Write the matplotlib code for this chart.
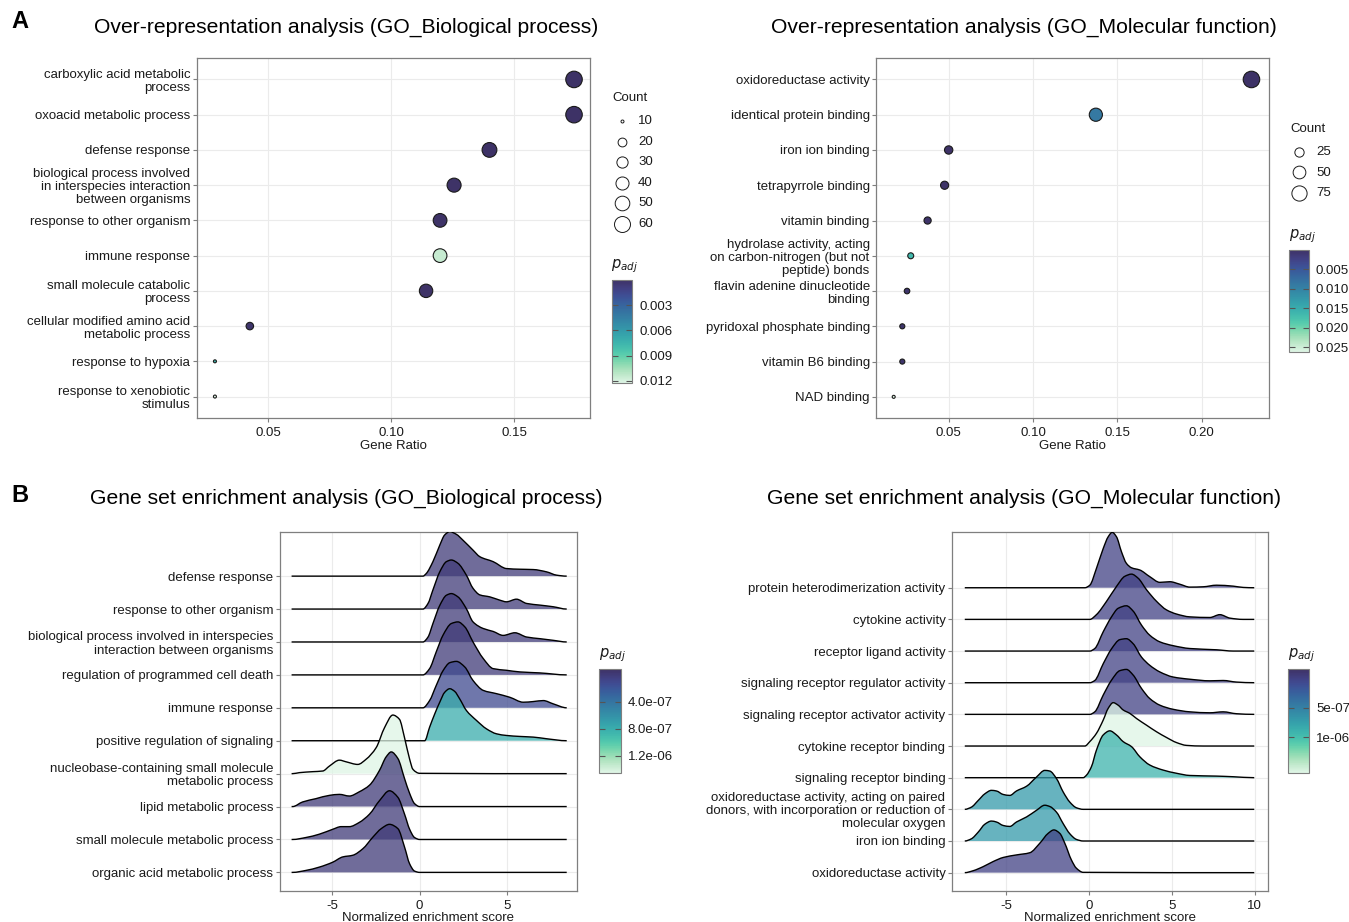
import numpy as np
import matplotlib.pyplot as plt
import matplotlib.colors as mcolors
import matplotlib.cm as cm
from matplotlib.path import Path
from matplotlib.patches import PathPatch
import seaborn as sns

plt.rcParams['font.family'] = ['Liberation Sans', 'DejaVu Sans']

# ---------------- A: over-representation analysis (top to bottom)
ora_bp_terms = ["carboxylic acid metabolic\nprocess", "oxoacid metabolic process", "defense response",
                "biological process involved\nin interspecies interaction\nbetween organisms",
                "response to other organism", "immune response", "small molecule catabolic\nprocess",
                "cellular modified amino acid\nmetabolic process", "response to hypoxia",
                "response to xenobiotic\nstimulus"]
ora_bp_ratio = [0.1744, 0.1744, 0.140, 0.1256, 0.1199, 0.1199, 0.1142, 0.0425, 0.0283, 0.0283]
ora_bp_count = [64, 64, 51, 46, 44, 44, 42, 16, 10, 10]
ora_bp_padj = [2e-5, 2e-5, 4e-5, 6e-5, 5e-5, 0.0115, 8e-5, 2e-4, 0.0075, 0.0123]

ora_mf_terms = ["oxidoreductase activity", "identical protein binding", "iron ion binding",
                "tetrapyrrole binding", "vitamin binding",
                "hydrolase activity, acting\non carbon-nitrogen (but not\npeptide) bonds",
                "flavin adenine dinucleotide\nbinding", "pyridoxal phosphate binding",
                "vitamin B6 binding", "NAD binding"]
ora_mf_ratio = [0.2296, 0.1373, 0.050, 0.0476, 0.0375, 0.0275, 0.0253, 0.0225, 0.0225, 0.0174]
ora_mf_count = [90, 54, 20, 19, 15, 11, 10, 9, 9, 7]
ora_mf_padj = [1e-4, 0.0087, 3e-4, 3e-4, 4e-4, 0.0165, 5e-4, 5e-4, 5e-4, 0.026]

# ---------------- B: gene set enrichment analysis (top to bottom)
gsea_bp_terms = ["defense response", "response to other organism",
                 "biological process involved in interspecies\ninteraction between organisms",
                 "regulation of programmed cell death", "immune response",
                 "positive regulation of signaling",
                 "nucleobase-containing small molecule\nmetabolic process",
                 "lipid metabolic process", "small molecule metabolic process",
                 "organic acid metabolic process"]
gsea_bp_padj = [1e-9, 1e-9, 1e-9, 1e-9, 1.2e-7, 8e-7, 1.45e-6, 1e-9, 1e-9, 1e-9]
gsea_bp_range = [-7.31, 8.40]
gsea_bp_nes = [
    [0.19, 0.38, 0.76, 1.15, 1.43, 1.72, 2.10, 2.48, 3.05, 3.44, 4.20, 4.96, 5.73, 6.49, 7.25, 7.82, 8.40],
    [0.19, 0.48, 0.76, 1.15, 1.53, 1.81, 2.19, 2.67, 3.05, 3.44, 4.01, 4.58, 4.96, 5.53, 6.11, 6.87, 7.63, 8.40],
    [0.19, 0.48, 0.76, 1.15, 1.53, 1.81, 2.19, 2.67, 3.05, 3.63, 4.20, 4.77, 5.44, 6.11, 6.87, 7.63, 8.40],
    [0.19, 0.57, 0.95, 1.34, 1.81, 2.19, 2.58, 3.05, 3.63, 4.20, 4.96, 5.73, 6.87, 8.40],
    [0.19, 0.57, 0.95, 1.34, 1.72, 2.10, 2.58, 3.05, 3.63, 4.39, 5.15, 5.92, 6.49, 7.06, 7.63, 8.40],
    [0.29, 0.57, 0.86, 1.15, 1.43, 1.72, 2.00, 2.29, 2.67, 3.24, 3.82, 4.39, 4.96, 5.73, 6.49, 7.25, 8.40],
    [-7.25, -6.87, -6.11, -5.53, -5.15, -4.58, -4.20, -3.53, -3.05, -2.48, -2.00, -1.53, -1.15, -0.86, -0.57, -0.38, 0.0],
    [-7.25, -6.68, -5.92, -5.15, -4.58, -4.01, -3.44, -2.86, -2.29, -1.91, -1.62, -1.24, -0.86, -0.57, -0.29, 0.0],
    [-7.25, -6.49, -5.73, -4.96, -4.48, -4.01, -3.44, -2.86, -2.29, -1.72, -1.24, -0.86, -0.57, -0.29, 0.0],
    [-7.25, -6.49, -5.73, -4.96, -4.39, -3.82, -3.24, -2.67, -2.19, -1.72, -1.24, -0.86, -0.57, -0.29, 0.0],
]
gsea_bp_density = [
    [0, 0.08, 0.44, 0.94, 1.25, 1.35, 1.27, 1.09, 0.79, 0.59, 0.44, 0.23, 0.21, 0.20, 0.13, 0.03, 0],
    [0, 0.17, 0.58, 1.13, 1.44, 1.49, 1.39, 1.03, 0.63, 0.43, 0.37, 0.27, 0.22, 0.30, 0.17, 0.12, 0.07, 0],
    [0, 0.15, 0.56, 1.11, 1.42, 1.47, 1.37, 1.01, 0.61, 0.41, 0.32, 0.20, 0.28, 0.15, 0.10, 0.05, 0],
    [0, 0.19, 0.70, 1.21, 1.56, 1.61, 1.46, 1.00, 0.50, 0.19, 0.14, 0.09, 0.06, 0],
    [0, 0.22, 0.68, 1.13, 1.37, 1.41, 1.24, 0.83, 0.53, 0.43, 0.32, 0.17, 0.19, 0.22, 0.12, 0],
    [0, 0.41, 0.81, 1.17, 1.47, 1.58, 1.50, 1.27, 0.92, 0.62, 0.36, 0.21, 0.16, 0.13, 0.11, 0.06, 0],
    [0, 0.03, 0.06, 0.08, 0.23, 0.41, 0.36, 0.28, 0.44, 0.79, 1.40, 1.78, 1.65, 1.09, 0.44, 0.13, 0.01],
    [0, 0.14, 0.24, 0.34, 0.37, 0.32, 0.45, 0.65, 1.10, 1.51, 1.66, 1.46, 0.85, 0.40, 0.09, 0],
    [0, 0.06, 0.16, 0.31, 0.39, 0.39, 0.52, 0.77, 1.18, 1.48, 1.28, 0.77, 0.31, 0.06, 0],
    [0, 0.06, 0.16, 0.31, 0.47, 0.52, 0.72, 1.07, 1.33, 1.46, 1.33, 0.77, 0.26, 0.04, 0],
]

gsea_mf_terms = ["protein heterodimerization activity", "cytokine activity", "receptor ligand activity",
                 "signaling receptor regulator activity", "signaling receptor activator activity",
                 "cytokine receptor binding", "signaling receptor binding",
                 "oxidoreductase activity, acting on paired\ndonors, with incorporation or reduction of\nmolecular oxygen",
                 "iron ion binding", "oxidoreductase activity"]
gsea_mf_padj = [1e-9, 1e-9, 1e-9, 1e-9, 1e-9, 1.6e-6, 9e-7, 7e-7, 7e-7, 1e-9]
gsea_mf_range = [-7.51, 9.97]
gsea_mf_nes = [
    [-0.26, 0.04, 0.44, 0.85, 1.15, 1.39, 1.65, 1.95, 2.25, 2.56, 3.06, 3.66, 4.27, 4.87, 5.48, 6.08, 6.89, 7.69, 8.70, 9.30],
    [0.04, 0.44, 1.05, 1.65, 2.15, 2.56, 2.96, 3.46, 4.07, 4.67, 5.27, 6.08, 7.29, 7.89, 8.50, 9.30],
    [0.04, 0.34, 0.85, 1.35, 1.75, 2.25, 2.66, 3.16, 3.66, 4.27, 5.07, 6.08, 7.69, 8.70],
    [0.04, 0.34, 0.85, 1.35, 1.85, 2.25, 2.66, 3.16, 3.66, 4.27, 5.07, 6.08, 7.29, 8.09, 8.90],
    [0.04, 0.34, 0.85, 1.35, 1.85, 2.25, 2.66, 3.16, 3.66, 4.27, 5.07, 6.08, 7.29, 8.09, 8.90],
    [-0.26, 0.04, 0.44, 0.85, 1.15, 1.45, 1.75, 2.05, 2.46, 2.86, 3.46, 4.07, 4.67, 5.27, 5.88, 6.89],
    [-0.36, -0.16, 0.14, 0.44, 0.85, 1.25, 1.65, 2.05, 2.56, 3.06, 3.66, 4.47, 5.27, 6.08, 7.69, 8.70, 9.97],
    [-7.51, -7.11, -6.70, -6.30, -5.90, -5.60, -5.19, -4.79, -4.39, -3.78, -3.18, -2.68, -2.38, -1.97, -1.57, -1.17, -0.77, -0.36],
    [-7.51, -7.11, -6.70, -6.30, -5.90, -5.60, -5.19, -4.79, -4.39, -3.78, -3.18, -2.68, -2.38, -1.97, -1.57, -1.17, -0.77, -0.36],
    [-7.51, -7.01, -6.40, -5.80, -5.19, -4.39, -3.58, -2.98, -2.48, -2.13, -1.77, -1.47, -1.07, -0.77, -0.36],
]
gsea_mf_density = [
    [0, 0.08, 0.61, 1.24, 1.61, 1.75, 1.61, 1.14, 0.77, 0.63, 0.56, 0.35, 0.17, 0.19, 0.11, 0.02, 0.03, 0.08, 0.05, 0.01],
    [0, 0.15, 0.57, 1.04, 1.36, 1.43, 1.30, 0.94, 0.57, 0.30, 0.17, 0.08, 0.06, 0.15, 0.04, 0],
    [0, 0.08, 0.61, 1.08, 1.35, 1.43, 1.26, 0.82, 0.50, 0.29, 0.17, 0.08, 0.04, 0],
    [0, 0.07, 0.60, 1.07, 1.36, 1.39, 1.23, 0.81, 0.55, 0.34, 0.18, 0.11, 0.06, 0.07, 0.02],
    [0, 0.08, 0.61, 1.08, 1.38, 1.42, 1.24, 0.82, 0.50, 0.29, 0.16, 0.08, 0.05, 0.08, 0.02],
    [0, 0.14, 0.40, 0.82, 1.19, 1.37, 1.29, 1.14, 1.03, 0.87, 0.66, 0.45, 0.27, 0.11, 0.02, 0],
    [0, 0.08, 0.35, 0.87, 1.35, 1.48, 1.35, 1.14, 0.98, 0.66, 0.40, 0.24, 0.14, 0.07, 0.05, 0.03, 0],
    [0, 0.07, 0.28, 0.49, 0.60, 0.58, 0.47, 0.44, 0.58, 0.73, 1.02, 1.23, 1.21, 0.97, 0.55, 0.23, 0.05, 0],
    [0, 0.07, 0.28, 0.53, 0.63, 0.60, 0.49, 0.46, 0.60, 0.76, 0.97, 1.13, 1.09, 0.91, 0.55, 0.23, 0.05, 0],
    [0, 0.06, 0.19, 0.35, 0.48, 0.56, 0.63, 0.93, 1.24, 1.35, 1.24, 0.93, 0.40, 0.14, 0.01],
]

W, H = 1349, 922
fig = plt.figure(figsize=(W / 100, H / 100), dpi=100)

mako = sns.color_palette("mako", as_cmap=True)
cmap = mcolors.ListedColormap(mako(np.linspace(0.24, 1.0, 256)))

TXT = '#1a1a1a'
GRID = '#ebebeb'
BORDER = '#7f7f7f'
FS = 9.5


def px_axes(l, t, r, b):
    return fig.add_axes([l / W, 1 - b / H, (r - l) / W, (b - t) / H])


def style(ax):
    for s in ax.spines.values():
        s.set_color(BORDER)
        s.set_linewidth(0.9)
    ax.tick_params(colors=BORDER, labelcolor=TXT, labelsize=FS, length=3, width=0.8)
    ax.tick_params(axis='y', pad=1.5)
    ax.grid(True, color=GRID, lw=0.8)
    ax.set_axisbelow(True)


def diam(c, cmin, cmax):
    return 3 + 13.5 * np.sqrt((np.asarray(c, float) - cmin) / (cmax - cmin))


def smooth_path(x, y):
    # cubic Bezier outline through the read points (shape-preserving tangents)
    x = np.asarray(x, float)
    y = np.asarray(y, float)
    h = np.diff(x)
    d = np.diff(y) / h
    m = np.zeros_like(y)
    for i in range(1, len(x) - 1):
        if d[i - 1] * d[i] > 0:
            w1 = 2 * h[i] + h[i - 1]
            w2 = h[i] + 2 * h[i - 1]
            m[i] = (w1 + w2) / (w1 / d[i - 1] + w2 / d[i])
    verts = [(x[0], y[0])]
    codes = [Path.MOVETO]
    for i in range(len(x) - 1):
        verts += [(x[i] + h[i] / 3, y[i] + m[i] * h[i] / 3),
                  (x[i + 1] - h[i] / 3, y[i + 1] - m[i + 1] * h[i] / 3),
                  (x[i + 1], y[i + 1])]
        codes += [Path.CURVE4] * 3
    return verts, codes


def dot_panel(box, terms, ratio, count, padj, xlim, xticks, vmax, cmin, cmax):
    ax = px_axes(*box)
    style(ax)
    n = len(terms)
    pos = np.arange(n, 0, -1)
    norm = mcolors.Normalize(0, vmax)
    ax.scatter(ratio, pos, s=(diam(count, cmin, cmax) * 0.72) ** 2, c=padj, cmap=cmap, norm=norm,
               edgecolors='#1a1a1a', linewidths=0.8, zorder=3)
    ax.set_xlim(*xlim)
    ax.set_ylim(0.4, n + 0.6)
    ax.set_xticks(xticks)
    ax.set_xticklabels(['%.2f' % v for v in xticks])
    ax.set_yticks(pos)
    ax.set_yticklabels(terms, multialignment='right', linespacing=1.12)
    ax.set_xlabel('Gene Ratio', fontsize=FS, color=TXT, labelpad=1)
    return norm


def ridge_panel(box, terms, nes, dens, padj, xr, norm):
    ax = px_axes(*box)
    style(ax)
    n = len(terms)
    for i in range(n):
        y0 = n - i
        x = np.r_[xr[0], nes[i], xr[1]]
        d = np.r_[0, dens[i], 0]
        keep = np.r_[True, np.diff(x) > 1e-9]
        verts, codes = smooth_path(x[keep], y0 + d[keep])
        fill = Path(verts + [(xr[1], y0), (xr[0], y0), (xr[0], y0)],
                    codes + [Path.LINETO, Path.LINETO, Path.CLOSEPOLY])
        ax.add_patch(PathPatch(fill, facecolor=cmap(norm(padj[i])), alpha=0.75, lw=0, zorder=2 * i + 2))
        ax.add_patch(PathPatch(Path(verts, codes), facecolor='none', edgecolor='black', lw=1.0,
                               zorder=2 * i + 3))
    ax.set_yticks(np.arange(n, 0, -1))
    ax.set_yticklabels(terms, multialignment='right', linespacing=1.12)
    ax.set_xlabel('Normalized enrichment score', fontsize=FS, color=TXT, labelpad=0)
    return ax


def colorbar(box, norm, ticks, labels):
    cax = px_axes(*box)
    cb = fig.colorbar(cm.ScalarMappable(norm=norm, cmap=cmap), cax=cax)
    cax.invert_yaxis()
    cb.set_ticks(ticks)
    cb.set_ticklabels(labels)
    cb.outline.set_edgecolor(BORDER)
    cb.outline.set_linewidth(0.8)
    cax.tick_params(direction='in', length=4, width=0.8, left=True, right=True, colors='#555555',
                    labelcolor=TXT, labelsize=FS, pad=5)


# A panels
n1 = dot_panel((196.5, 58.3, 590, 417.7), ora_bp_terms, ora_bp_ratio, ora_bp_count, ora_bp_padj,
               (0.0208, 0.1809), [0.05, 0.10, 0.15], 0.0123, 10, 64)
colorbar((611.7, 280, 632.3, 383.3), n1, [0.003, 0.006, 0.009, 0.012], ['0.003', '0.006', '0.009', '0.012'])

n2 = dot_panel((876, 58.3, 1269, 418), ora_mf_terms, ora_mf_ratio, ora_mf_count, ora_mf_padj,
               (0.0069, 0.240), [0.05, 0.10, 0.15, 0.20], 0.0262, 7, 90)
colorbar((1289, 250, 1309, 352), n2, [0.005, 0.010, 0.015, 0.020, 0.025],
         ['0.005', '0.010', '0.015', '0.020', '0.025'])

# B panels
n3 = mcolors.Normalize(-0.8e-7, 1.45e-6)
ax3 = ridge_panel((279.5, 531.7, 576.7, 890.5), gsea_bp_terms, gsea_bp_nes, gsea_bp_density,
                  gsea_bp_padj, gsea_bp_range, n3)
ax3.set_xlim(-8.0, 8.97)
ax3.set_ylim(0.45, 11.35)
ax3.set_xticks([-5, 0, 5])
ax3.set_xticklabels(['-5', '0', '5'])
colorbar((599.3, 669.3, 620.7, 772.7), n3, [4e-7, 8e-7, 1.2e-6], ['4.0e-07', '8.0e-07', '1.2e-06'])

n4 = mcolors.Normalize(-1.5e-7, 1.6e-6)
ax4 = ridge_panel((951.7, 531.7, 1268, 890.7), gsea_mf_terms, gsea_mf_nes, gsea_mf_density,
                  gsea_mf_padj, gsea_mf_range, n4)
ax4.set_xlim(-8.3, 10.8)
ax4.set_ylim(0.43, 11.77)
ax4.set_xticks([-5, 0, 5, 10])
ax4.set_xticklabels(['-5', '0', '5', '10'])
colorbar((1288, 669.3, 1309, 772.7), n4, [5e-7, 1e-6], ['5e-07', '1e-06'])

# overlay for titles and size legends (pixel coordinates)
ov = fig.add_axes([0, 0, 1, 1])
ov.set_xlim(0, W)
ov.set_ylim(H, 0)
ov.axis('off')

ov.text(11, 22, 'A', fontsize=17, fontweight='bold', va='center', ha='left')
ov.text(11, 495, 'B', fontsize=17, fontweight='bold', va='center', ha='left')
TFS = 15.2
ov.text(346, 27, 'Over-representation analysis (GO_Biological process)', fontsize=TFS, ha='center', va='center')
ov.text(1024, 27, 'Over-representation analysis (GO_Molecular function)', fontsize=TFS, ha='center', va='center')
ov.text(346, 498, 'Gene set enrichment analysis (GO_Biological process)', fontsize=TFS, ha='center', va='center')
ov.text(1024, 498, 'Gene set enrichment analysis (GO_Molecular function)', fontsize=TFS, ha='center', va='center')

for x0, ylab in [(611, 266), (1289, 236), (599, 655), (1288, 655)]:
    ov.text(x0, ylab, r'$p_{adj}$', fontsize=10.5, ha='left', va='center', color=TXT)

# Count legends
bp_leg = [10, 20, 30, 40, 50, 60]
mf_leg = [25, 50, 75]
ov.text(612, 98, 'Count', fontsize=FS, ha='left', va='center', color=TXT)
for k, c in enumerate(bp_leg):
    yy = 121 + k * 20.6
    ov.scatter([622], [yy], s=(diam(c, 10, 64) * 0.72) ** 2, facecolors='white',
               edgecolors='#1a1a1a', linewidths=0.7)
    ov.text(638, yy, str(c), fontsize=FS, ha='left', va='center', color=TXT)
ov.text(1290, 129, 'Count', fontsize=FS, ha='left', va='center', color=TXT)
for k, c in enumerate(mf_leg):
    yy = 152 + k * 20.5
    ov.scatter([1299], [yy], s=(diam(c, 7, 90) * 0.72) ** 2, facecolors='white',
               edgecolors='#1a1a1a', linewidths=0.7)
    ov.text(1316, yy, str(c), fontsize=FS, ha='left', va='center', color=TXT)

fig.savefig('out.png', dpi=100)
